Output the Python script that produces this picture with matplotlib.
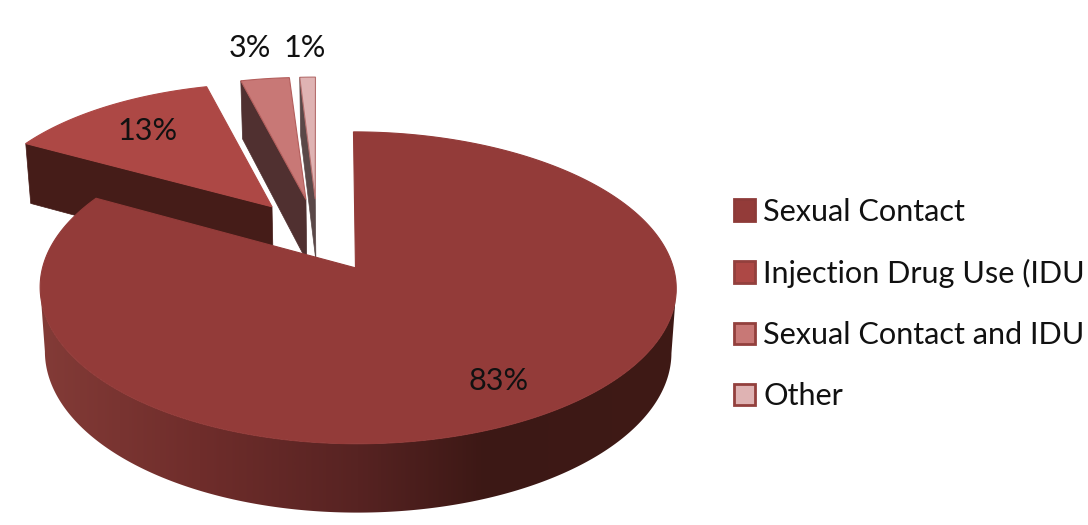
import numpy as np
import matplotlib
matplotlib.use("Agg")
import matplotlib.pyplot as plt
from matplotlib.patches import Polygon, Patch
from matplotlib.colors import LinearSegmentedColormap

# data
categories = ["Sexual Contact", "Injection Drug Use (IDU", "Sexual Contact and IDU", "Other"]
values = [83, 13, 3, 1]

# style
top_colors = ["#933b39", "#ad4845", "#c87876", "#dfb3b3"]
edge_colors = ["#933b39", "#ad4845", "#b35e5c", "#b56f6e"]
cut_colors = [None, "#451c18", "#503030", "#5a4848"]
swatch_edges = ["#8d3a38", "#93403d", "#93403d", "#93403d"]
rim_stops = [(0.0, "#833b37"), (0.25, "#6f2d2b"), (0.5, "#572322"), (0.7, "#3c1815"), (1.0, "#3f1a16")]
FONT = "Lato"
FS = 22.1

# layout (pixels of the canvas)
CX, CY = 317.6, 236        # true pie centre
EX, EY = 74.4, 37          # explosion reach
A, B, K = 315.5, 153.4, 0.128
arc_stretch = [1.0, 1.06, 1.04, 1.0]
arc_dx = [0.0, -5.5, 0.0, 2.0]
label_pos = [(499, 381), (147, 131), (250, 48), (305, 48)]

plt.rcParams["font.family"] = [FONT, "DejaVu Sans"]
fig = plt.figure(figsize=(10.88, 5.25), dpi=100, facecolor="white")
ax = fig.add_axes([0, 0, 1, 1])


def arc(th_deg, scale):
    th = np.radians(th_deg)
    u, v = np.sin(th), np.cos(th)
    den = 1 + K * v
    shift = 2.5 * (1 - v ** 2) - 2 * v
    return np.column_stack([scale * (A * u / den + shift), scale * (-B * v / den)])


def lower(pts):
    """Map points of the top face to the bottom face of the disc."""
    pts = np.atleast_2d(pts)
    return np.column_stack([357 + 0.985 * (pts[:, 0] - 357),
                            pts[:, 1] + 58 + 0.03 * (pts[:, 1] - 81)])


edges = np.concatenate([[0], np.cumsum(values)]) / sum(values) * 360
rim_cmap = LinearSegmentedColormap.from_list("rim", rim_stops)

# draw back to front: smallest slice first, largest last
for i in range(len(values) - 1, -1, -1):
    a0, a1 = edges[i], edges[i + 1]
    mid = np.radians((a0 + a1) / 2)
    apex = np.array([CX + EX * np.sin(mid), CY - EY * np.cos(mid)])
    scale = min(1 + 0.0015 * (apex[1] - 268), 1)
    ths = np.linspace(a0, a1, 600)
    rim = apex + arc(ths, scale)
    xmid = (rim[:, 0].min() + rim[:, 0].max()) / 2
    rim[:, 0] = xmid + arc_stretch[i] * (rim[:, 0] - xmid) + arc_dx[i]

    if cut_colors[i]:
        quad = np.vstack([apex, rim[0], lower(rim[0]), lower(apex)])
        ax.add_patch(Polygon(quad, closed=True, fc=cut_colors[i], ec=cut_colors[i], lw=0.5, zorder=i * -3 + 10))
    else:
        # the rim runs between the rightmost and the leftmost point of the face
        front = rim[np.argmax(rim[:, 0]):np.argmin(rim[:, 0]) + 1]
        outline = np.vstack([front, lower(front)[::-1]])
        clip = Polygon(outline, closed=True, fc="none", ec="none", transform=ax.transData)
        ax.add_patch(clip)
        grad = np.linspace(0, 1, 512).reshape(1, -1)
        im = ax.imshow(grad, cmap=rim_cmap, vmin=0, vmax=1, extent=(40, 677, 525, 0),
                       aspect="auto", interpolation="bilinear", zorder=i * -3 + 10)
        im.set_clip_path(clip)

    face = np.vstack([apex, rim])
    ax.add_patch(Polygon(face, closed=True, fc=top_colors[i], ec=edge_colors[i], lw=0.8, zorder=i * -3 + 11))

ax.set_xlim(0, 1088)
ax.set_ylim(525, 0)
ax.set_aspect("auto")
ax.axis("off")

for v, (x, y) in zip(values, label_pos):
    ax.text(x, y, f"{v}%", ha="center", va="center", fontsize=FS, color="#111111", zorder=30)

handles = [Patch(facecolor=c, edgecolor=e, linewidth=2.0) for c, e in zip(top_colors, swatch_edges)]
leg = ax.legend(handles, categories, loc="center left", bbox_to_anchor=(733.5 / 1088, 1 - 304 / 525),
                frameon=False, fontsize=FS, labelcolor="#111111", handlelength=0.7, handleheight=0.7,
                handletextpad=0.27, labelspacing=1.08, borderpad=0, borderaxespad=0)

fig.savefig("out.png", dpi=100, facecolor="white")
